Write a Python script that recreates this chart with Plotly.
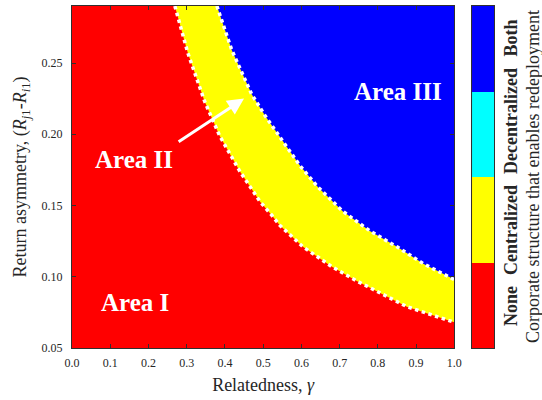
import plotly.graph_objects as go

# Boundary between Area I (none) and Area II (centralized)
low_gamma = [0.269, 0.303, 0.347, 0.386, 0.439, 0.491, 0.523, 0.544, 0.604, 0.680, 0.745, 0.876, 1.0]
low_y = [0.290, 0.257, 0.223, 0.199, 0.174, 0.153, 0.143, 0.136, 0.121, 0.107, 0.097, 0.079, 0.068]

# Boundary between Area II (centralized) and Area III (both)
up_gamma = [0.379, 0.418, 0.470, 0.505, 0.536, 0.596, 0.643, 0.708, 0.780, 0.850, 0.920, 1.0]
up_y = [0.290, 0.259, 0.228, 0.213, 0.201, 0.178, 0.163, 0.146, 0.132, 0.121, 0.109, 0.098]

x_range = [0.0, 1.0]
y_range = [0.05, 0.29]
x_ticks = [0.0, 0.1, 0.2, 0.3, 0.4, 0.5, 0.6, 0.7, 0.8, 0.9, 1.0]
y_ticks = [0.05, 0.10, 0.15, 0.20, 0.25]

categories = ["None", "Centralized", "Decentralized", "Both"]
cat_colors = ["#FF0000", "#FFFF00", "#00FFFF", "#0000FF"]
cat_label_pos = [0.123, 0.345, 0.664, 0.905]

area_labels = ["Area I", "Area II", "Area III"]
area_x = [0.165, 0.162, 0.853]
area_y = [0.082, 0.182, 0.230]

arrow_from = (0.275, 0.194)
arrow_to = (0.45, 0.225)

FONT = "Liberation Serif"
TXT = "#262626"

fig = go.Figure()

# Area II (yellow): region above lower boundary
fig.add_trace(go.Scatter(
    x=low_gamma + [x_range[1], x_range[1]],
    y=low_y + [y_range[1], y_range[1]],
    fill="toself", fillcolor=cat_colors[1], mode="none",
    hoverinfo="skip", showlegend=False))
# Area III (blue): region above upper boundary
fig.add_trace(go.Scatter(
    x=up_gamma + [x_range[1], x_range[1]],
    y=up_y + [y_range[1], y_range[1]],
    fill="toself", fillcolor=cat_colors[3], mode="none",
    hoverinfo="skip", showlegend=False))
# dotted white boundaries
for gx, gy in [(low_gamma, low_y), (up_gamma, up_y)]:
    fig.add_trace(go.Scatter(
        x=gx, y=gy, mode="lines",
        line=dict(color="white", width=3.5, dash="dot"),
        hoverinfo="skip", showlegend=False))

# colorbar drawn as a 4-cell heatmap on its own axes
fig.add_trace(go.Heatmap(
    z=[[0], [1], [2], [3]], x=[0], y=[0, 1, 2, 3],
    xaxis="x2", yaxis="y2",
    colorscale=[[0, cat_colors[0]], [0.25, cat_colors[0]],
                [0.25, cat_colors[1]], [0.5, cat_colors[1]],
                [0.5, cat_colors[2]], [0.75, cat_colors[2]],
                [0.75, cat_colors[3]], [1, cat_colors[3]]],
    zmin=-0.5, zmax=3.5, showscale=False, hoverinfo="skip"))

axis_common = dict(
    showgrid=False, zeroline=False, showline=True, linecolor="#303030",
    linewidth=1, mirror="ticks", ticks="inside", ticklen=4, tickcolor="#303030",
    tickfont=dict(family=FONT, size=12, color=TXT),
)

fig.update_layout(
    width=542, height=400, autosize=False,
    margin=dict(l=72, r=48, t=6, b=52),
    paper_bgcolor="white", plot_bgcolor=cat_colors[0],
    font=dict(family=FONT, color=TXT),
    xaxis=dict(range=x_range, domain=[0, 0.906], tickvals=x_ticks,
               ticktext=[f"{v:.1f}" for v in x_ticks], ticklabelstandoff=4,
               title=dict(text="Relatedness, <i>γ</i>", font=dict(family=FONT, size=18, color=TXT), standoff=8),
               **axis_common),
    yaxis=dict(range=y_range, tickvals=y_ticks,
               ticktext=[f"{v:.2f}" for v in y_ticks], ticklabelstandoff=6,
               title=dict(text="Return asymmetry, (<i>R</i><sub><i>j</i>1</sub>-<i>R</i><sub><i>i</i>1</sub>)",
                          font=dict(family=FONT, size=18, color=TXT), standoff=10),
               **axis_common),
    xaxis2=dict(domain=[0.948, 1.0], range=[-0.5, 0.5], showticklabels=False,
                ticks="", showgrid=False, zeroline=False, showline=True,
                linecolor="#303030", mirror=True, anchor="y2"),
    yaxis2=dict(range=[-0.5, 3.5], showticklabels=False, ticks="", showgrid=False,
                zeroline=False, showline=True, linecolor="#303030", mirror=True,
                anchor="x2"),
)

for lab, px, py in zip(area_labels, area_x, area_y):
    fig.add_annotation(x=px, y=py, xref="x", yref="y", text=f"<b>{lab}</b>",
                       showarrow=False, font=dict(family=FONT, size=25, color="white"))

fig.add_annotation(x=arrow_to[0], y=arrow_to[1], ax=arrow_from[0], ay=arrow_from[1],
                   xref="x", yref="y", axref="x", ayref="y", text="",
                   showarrow=True, arrowhead=2, arrowsize=1.1, arrowwidth=3,
                   arrowcolor="white")

for cat, py in zip(categories, cat_label_pos):
    fig.add_annotation(x=1.0, xref="paper", xanchor="left", xshift=5,
                       y=py, yref="paper", yanchor="middle",
                       text=f"<b>{cat}</b>", textangle=-90, showarrow=False,
                       font=dict(family=FONT, size=18, color=TXT))

fig.add_annotation(x=1.0, xref="paper", xanchor="left", xshift=27,
                   y=0.5, yref="paper", yanchor="middle",
                   text="Corporate structure that enables redeployment", textangle=-90,
                   showarrow=False, font=dict(family=FONT, size=18, color=TXT))

fig.write_html("out.html", config={"displayModeBar": False},
               post_script="document.body.style.margin='0px';")
